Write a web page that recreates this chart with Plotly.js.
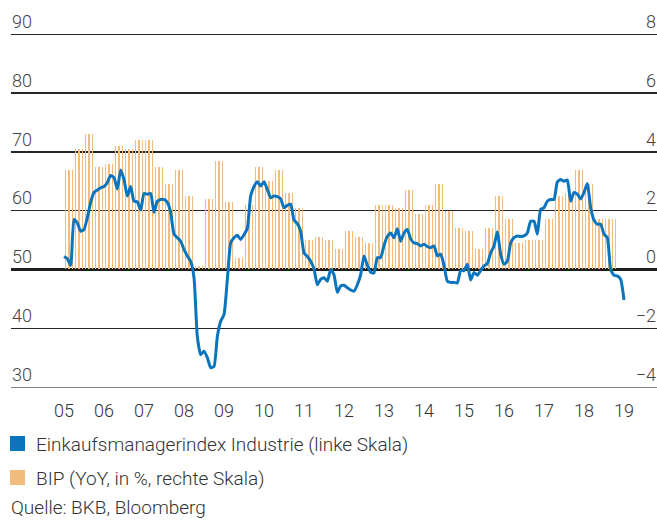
<!DOCTYPE html>
<html><head><meta charset="utf-8">
<script src="https://cdn.plot.ly/plotly-3.0.1.min.js"></script>
<style>html,body{margin:0;padding:0;background:#fff;} #chart{width:657px;height:521px;}</style>
</head><body><div id="chart"></div>
<script>
// ---- data ----
const startYear = 2005;
// Einkaufsmanagerindex Industrie, monthly (left scale)
const pmi = [
52.2,51.8,50.7,58.5,57.9,56.5,56.8,58.8,61.4,63.1,63.5,63.9,
64.1,64.8,66.0,65.6,63.7,66.9,65.3,62.5,64.1,61.6,61.5,60.1,
62.9,62.8,62.9,59.7,61.6,61.9,61.9,61.4,59.7,56.0,55.4,54.8,
53.4,52.3,51.4,48.6,38.6,35.5,36.1,35.0,33.3,33.5,38.6,41.2,
42.3,48.3,54.5,55.4,55.8,55.1,55.9,57.0,62.5,64.1,64.9,64.2,
64.9,63.6,62.2,62.5,62.4,62.0,60.5,60.9,61.1,58.4,57.8,56.5,
52.8,52.2,51.4,50.1,47.4,48.3,48.6,48.0,50.0,49.1,46.1,47.2,
47.3,46.9,46.5,46.3,47.4,49.1,52.3,50.7,49.5,49.4,52.0,52.0,
54.1,55.6,56.2,55.4,56.9,54.8,56.2,56.8,55.2,54.5,54.4,54.0,
54.3,53.9,53.7,54.0,52.3,52.6,50.7,48.0,47.8,47.8,47.7,49.8,
49.8,50.9,48.2,49.5,49.0,49.8,50.6,51.0,52.8,54.0,56.4,52.6,
50.9,51.4,54.5,55.4,55.7,55.6,55.7,56.2,58.2,58.2,56.0,60.2,
60.5,61.6,61.9,61.9,64.9,65.3,65.0,65.2,61.6,63.1,62.8,62.0,
63.1,64.6,60.5,58.4,57.7,57.7,56.0,55.4,50.0,49.0,48.9,48.3,
44.8
];
// BIP YoY in %, quarterly (right scale), shown as monthly bars
const gdpQuarterly = [
3.4,4.1,4.6,3.5, 3.6,4.2,4.1,4.4, 4.4,3.5,2.9,3.4, 2.5,0.1,2.4,3.7,
2.3,0.4,2.2,3.5, 3.0,3.4,2.6,2.1, 1.0,1.1,1.0,0.7, 1.3,1.1,0.9,2.2,
2.2,2.1,2.7,1.9, 2.2,2.9,2.0,1.4, 1.3,0.7,1.4,2.5, 1.7,0.9,1.0,1.0,
1.7,2.5,2.6,3.4, 2.9,1.7,1.7,1.7
];
const gdpMonthsShown = 166;
const xTickVals = [2005,2006,2007,2008,2009,2010,2011,2012,2013,2014,2015,2016,2017,2018,2019];
const xTickText = ['05','06','07','08','09','10','11','12','13','14','15','16','17','18','19'];
const leftTickVals = [30,40,50,60,70,80,90];
const leftTickText = ['30','40','50','60','70','80','90'];
const rightTickVals = [-4,-2,0,2,4,6,8];
const rightTickText = ['\u22124','\u22122','0','2','4','6','8'];
const seriesNames = ['Einkaufsmanagerindex Industrie (linke Skala)','BIP (YoY, in %, rechte Skala)'];
const sourceText = 'Quelle: BKB, Bloomberg';

// ---- derived ----
const pmiX = pmi.map((_, i) => startYear + i / 12);
const gdpX = [], gdpY = [];
for (let m = 0; m < gdpMonthsShown; m++) {
  gdpX.push(startYear + (m + 0.5) / 12);
  gdpY.push(gdpQuarterly[Math.floor(m / 3)]);
}

const BLUE = '#0a74bc', ORANGE = '#f2bd7c';
const FONT = 'Roboto, "Liberation Sans", sans-serif';

// plot area in pixels: x 11..657, y 10..387 ; left scale 30 at y=387, 90 at y=34.3
const PL = 11, PW = 646, PT = 10, PB = 387, PH = PB - PT;
const pxPerLeft = (387 - 34.3) / 60;           // px per left-scale unit
const leftTop = 30 + PH / pxPerLeft;             // left-scale value at top of plot
const rightTop = -4 + (leftTop - 30) / 5;        // right scale: 2 units per 10 left units
const px = v => (v - PL) / PW;
const py = v => (PB - v) / PH;

const traces = [
  {type:'bar', x:gdpX, y:gdpY, yaxis:'y', xaxis:'x', width:0.03,
   marker:{color:ORANGE, line:{width:0}}, name:seriesNames[1], hoverinfo:'skip'},
  {type:'scatter', mode:'lines', x:pmiX, y:pmi, yaxis:'y2', xaxis:'x',
   line:{color:BLUE, width:3, shape:'spline', smoothing:0.5}, name:seriesNames[0], hoverinfo:'skip'}
];

const tickFont = {family:FONT, size:18, color:'#444', weight:300};
const textFont = {family:FONT, size:19, color:'#333', weight:300};

const layout = {
  width:657, height:521,
  margin:{l:PL, r:0, t:PT, b:521 - PB, pad:0},
  paper_bgcolor:'#fff', plot_bgcolor:'#fff',
  showlegend:false,
  bargap:0,
  font:{family:FONT, size:16, color:'#444', weight:300},
  xaxis:{range:[2003.675, 2019.825], tickvals:xTickVals, ticktext:xTickText,
    showgrid:false, zeroline:false, showline:true, linecolor:'#888', linewidth:1.2,
    ticks:'', tickfont:{family:FONT, size:18, color:'#333', weight:300}, ticklabelstandoff:7, fixedrange:true},
  yaxis:{range:[-4, rightTop], side:'right', tickvals:rightTickVals, ticktext:rightTickText,
    ticklabelposition:'inside top', showgrid:false, zeroline:true, zerolinecolor:'#1e1e1e', zerolinewidth:3,
    ticks:'', tickfont:tickFont, ticklabelstandoff:-2, fixedrange:true},
  yaxis2:{range:[30, leftTop], overlaying:'y', side:'left', tickvals:leftTickVals, ticktext:leftTickText,
    ticklabelposition:'inside top', showgrid:true, gridcolor:'#262626', gridwidth:1.3, zeroline:false,
    ticks:'', tickfont:tickFont, ticklabelstandoff:-2, fixedrange:true},
  shapes:[
    {type:'rect', xref:'paper', yref:'paper', x0:px(10), x1:px(25), y0:py(451), y1:py(436), fillcolor:BLUE, line:{width:0}},
    {type:'rect', xref:'paper', yref:'paper', x0:px(10), x1:px(25), y0:py(485), y1:py(470), fillcolor:ORANGE, line:{width:0}}
  ],
  annotations:[
    {xref:'paper', yref:'paper', x:px(34), y:py(444), xanchor:'left', yanchor:'middle', showarrow:false,
     text:seriesNames[0], font:textFont},
    {xref:'paper', yref:'paper', x:px(34), y:py(478), xanchor:'left', yanchor:'middle', showarrow:false,
     text:seriesNames[1], font:textFont},
    {xref:'paper', yref:'paper', x:px(9), y:py(508), xanchor:'left', yanchor:'middle', showarrow:false,
     text:sourceText, font:textFont}
  ]
};

Plotly.newPlot('chart', traces, layout, {displayModeBar:false, staticPlot:true});
</script>
</body></html>
